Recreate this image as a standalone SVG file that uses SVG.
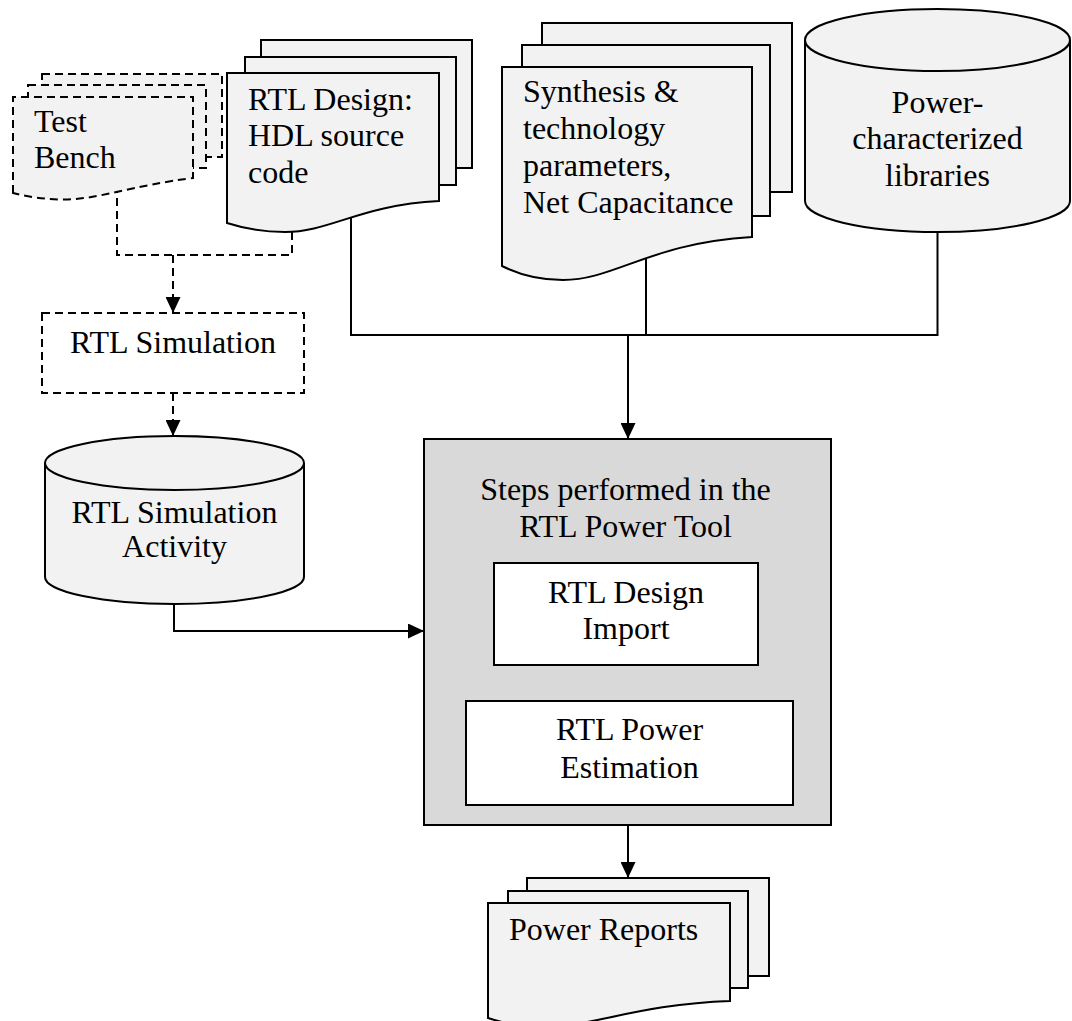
<svg xmlns="http://www.w3.org/2000/svg" width="1072" height="1021" viewBox="0 0 1072 1021">
  <style>
    .sheet { fill: #f2f2f2; stroke: #000; stroke-width: 2; stroke-linejoin: miter; }
    .dashed { stroke-dasharray: 8 5; }
    .wire { fill: none; stroke: #000; stroke-width: 2; }
    .tool { fill: #d9d9d9; stroke: #000; stroke-width: 2; }
    .step { fill: #fff; stroke: #000; stroke-width: 2; }
    .box { fill: #fff; stroke: #000; stroke-width: 2; }
    .label { font-family: "Liberation Serif", "Times New Roman", serif; font-size: 32px; fill: #000; }
    .mid { text-anchor: middle; }
  </style>
  <defs>
    <marker id="arrow" markerUnits="userSpaceOnUse" viewBox="0 0 16 15" refX="16" refY="7.5" markerWidth="16" markerHeight="15" orient="auto">
      <path d="M0,0 L16,7.5 L0,15 Z" fill="#000"/>
    </marker>
  </defs>

  <!-- connectors -->
  <g id="connectors">
    <!-- dashed simulation path -->
    <path class="wire dashed" d="M292,232 V255 H117 V190"/>
    <path class="wire dashed" d="M173,255 V313" marker-end="url(#arrow)"/>
    <path class="wire dashed" d="M173,393 V436" marker-end="url(#arrow)"/>
    <!-- inputs into the power tool -->
    <path class="wire" d="M351,218 V335 H937.5 V232"/>
    <path class="wire" d="M646,259 V335"/>
    <path class="wire" d="M628,335 V439" marker-end="url(#arrow)"/>
    <path class="wire" d="M174,604 V631 H424" marker-end="url(#arrow)"/>
    <path class="wire" d="M628,825 V878" marker-end="url(#arrow)"/>
  </g>

  <!-- test bench (dashed multi-document) -->
  <g id="test-bench">
    <rect class="sheet dashed" x="42" y="74" width="180" height="83"/>
    <rect class="sheet dashed" x="28" y="85" width="178" height="83"/>
    <path class="sheet dashed" d="M13,193 V97 H193 V178 C130,186 100,199 65,199.5 Q38,199.5 13,193 Z"/>
    <text class="label" x="34" y="132">Test</text>
    <text class="label" x="34" y="168">Bench</text>
  </g>

  <!-- RTL design source -->
  <g id="rtl-design">
    <rect class="sheet" x="261" y="40" width="211" height="128"/>
    <rect class="sheet" x="245" y="57" width="211" height="128"/>
    <path class="sheet" d="M227,223 V73 H439 V201 C360,205 330,232 285,232 Q255,232 227,223 Z"/>
    <text class="label" x="248" y="110">RTL Design:</text>
    <text class="label" x="248" y="146">HDL source</text>
    <text class="label" x="248" y="183">code</text>
  </g>

  <!-- synthesis and technology parameters -->
  <g id="synthesis-params">
    <rect class="sheet" x="542" y="23" width="250" height="169"/>
    <rect class="sheet" x="522" y="45" width="248" height="171"/>
    <path class="sheet" d="M502,266 V67 H752 V237 C650,243 615,280 563,280 Q530,280 502,266 Z"/>
    <text class="label" x="523" y="102">Synthesis &amp;</text>
    <text class="label" x="523" y="139">technology</text>
    <text class="label" x="523" y="176">parameters,</text>
    <text class="label" x="523" y="213">Net Capacitance</text>
  </g>

  <!-- power-characterized libraries (cylinder) -->
  <g id="power-libraries">
    <path class="sheet" d="M805,40 V201 A132.5,31 0 0 0 1070,201 V40"/>
    <ellipse class="sheet" cx="937.5" cy="40" rx="132.5" ry="31"/>
    <text class="label mid" x="937.5" y="113">Power-</text>
    <text class="label mid" x="937.5" y="149">characterized</text>
    <text class="label mid" x="937.5" y="186">libraries</text>
  </g>

  <!-- RTL simulation step -->
  <g id="rtl-simulation">
    <rect class="box dashed" x="42" y="313" width="262" height="80"/>
    <text class="label mid" x="173" y="353">RTL Simulation</text>
  </g>

  <!-- simulation activity (cylinder) -->
  <g id="sim-activity">
    <path class="sheet" d="M45,463 V577 A129.5,27 0 0 0 304,577 V463"/>
    <ellipse class="sheet" cx="174.5" cy="463" rx="129.5" ry="27"/>
    <text class="label mid" x="174.5" y="523">RTL Simulation</text>
    <text class="label mid" x="174.5" y="557">Activity</text>
  </g>

  <!-- RTL power tool -->
  <g id="power-tool">
    <rect class="tool" x="424" y="439" width="407" height="386"/>
    <text class="label mid" x="625.5" y="500">Steps performed in the</text>
    <text class="label mid" x="625.5" y="537">RTL Power Tool</text>
  </g>
  <g id="design-import">
    <rect class="step" x="494" y="563" width="264" height="102"/>
    <text class="label mid" x="626" y="603">RTL Design</text>
    <text class="label mid" x="626" y="639">Import</text>
  </g>
  <g id="power-estimation">
    <rect class="step" x="466" y="701" width="327" height="104"/>
    <text class="label mid" x="629.5" y="740">RTL Power</text>
    <text class="label mid" x="629.5" y="778">Estimation</text>
  </g>

  <!-- power reports -->
  <g id="power-reports">
    <rect class="sheet" x="527" y="878" width="242" height="98"/>
    <rect class="sheet" x="508" y="891" width="240" height="97"/>
    <path class="sheet" d="M488,1018 V903 H730 V1001 C640,1004 590,1027 545,1027 Q515,1027 488,1018 Z"/>
    <text class="label" x="509" y="940">Power Reports</text>
  </g>
</svg>
